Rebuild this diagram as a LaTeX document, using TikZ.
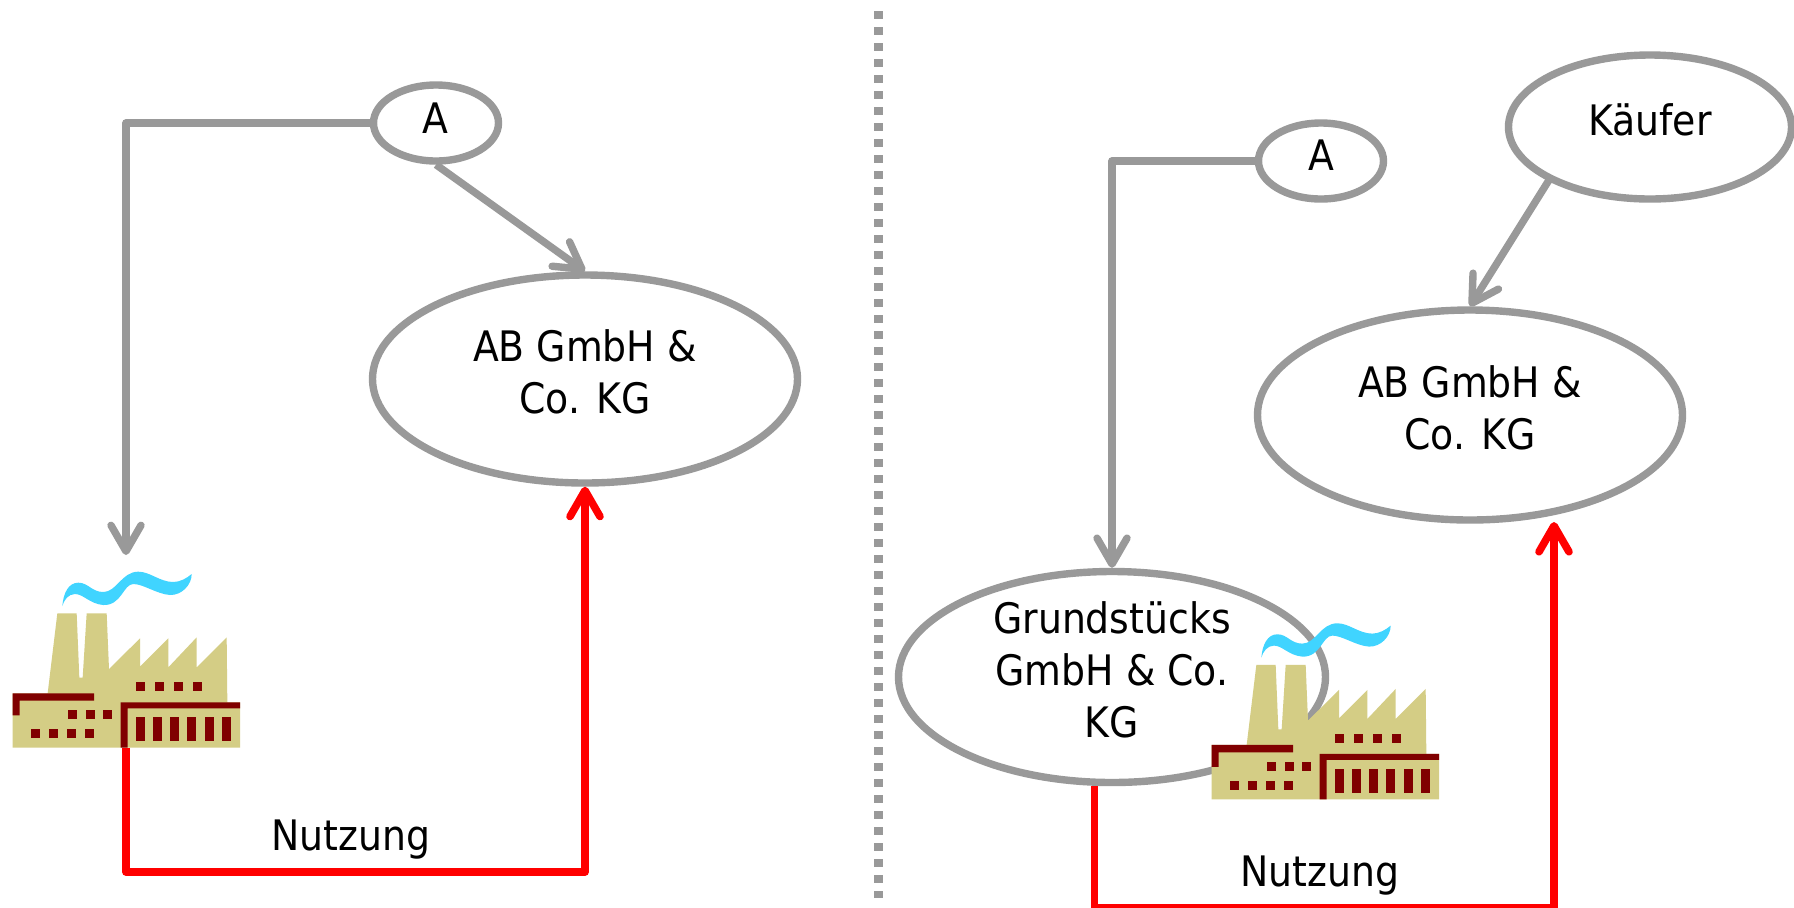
\documentclass[tikz,border=0pt]{standalone}
\usepackage{fontspec}
\setmainfont{DejaVu Sans Condensed}
\usetikzlibrary{arrows.meta,shapes.geometric}
\definecolor{gr}{HTML}{999999}
\definecolor{rd}{HTML}{FF0000}
\definecolor{beige}{HTML}{D4CD85}
\definecolor{dred}{HTML}{800000}
\definecolor{sky}{HTML}{40D4FF}
\tikzset{
 x=0.5pt,y=-0.5pt,
 oval/.style={draw=gr,line width=3.7pt,fill=white,ellipse,inner sep=0pt},
 lbl/.style={font=\fontsize{21}{26}\selectfont,align=center,text=black,inner sep=0pt},
 grayline/.style={draw=gr,line width=3.7pt,line join=round},
 grayarrow/.style={grayline,-{Straight Barb[length=13pt,width=15pt,line width=3.7pt,round]}},
 redarrow/.style={draw=rd,line width=3.8pt,line join=round,-{Straight Barb[length=13pt,width=15pt,line width=3.8pt,round]}},
 sep/.style={draw=gr,line width=4.5pt,dash pattern=on 4pt off 4pt},
 factory/.pic={
  \begin{scope}[x=0.16667pt,y=-0.16667pt]
  \fill[beige] (172,190)--(230,190)--(238,383)--(248,383)--(260,190)--(320,190)--(327,357)--(420,265)--(420,350)--(505,265)--(505,352)--(590,262)--(590,352)--(680,262)--(682,457)--(720,457)--(720,593)--(38,593)--(38,430)--(143,430)--cycle;
  \fill[dred] (38,430)--(282,430)--(282,452)--(59,452)--(59,496)--(38,496)--cycle;
  \fill[dred] (362,457)--(720,457)--(720,475)--(383,475)--(383,593)--(362,593)--cycle;
  \foreach \a in {408,465,522,579} \fill[dred] (\a,396) rectangle ++(27,27);
  \foreach \a in {204,258,309} \fill[dred] (\a,480) rectangle ++(27,27);
  \foreach \a in {93,147,201,255} \fill[dred] (\a,537) rectangle ++(27,27);
  \foreach \a in {408,459,510,561,615,666} \fill[dred] (\a,501) rectangle ++(27,72);
  \fill[sky] (187,168) .. controls (190,130) and (205,98) .. (235,98)
    .. controls (265,98) and (275,126) .. (310,126)
    .. controls (350,126) and (365,65) .. (415,65)
    .. controls (450,65) and (480,96) .. (520,96)
    .. controls (540,96) and (560,85) .. (575,72)
    .. controls (575,105) and (545,136) .. (510,135)
    .. controls (470,132) and (430,102) .. (400,102)
    .. controls (370,102) and (365,167) .. (310,165)
    .. controls (270,162) and (250,132) .. (225,132)
    .. controls (205,132) and (192,150) .. (187,168) -- cycle;
  \end{scope}
 }
}
\begin{document}
\begin{tikzpicture}
\useasboundingbox[fill=white] (0,0) rectangle (1794,907);
\begin{scope}
\clip (0,0) rectangle (1794,907);
% separator
\coordinate (sepT) at (878.5,11);
\coordinate (sepB) at (878.5,898);
\draw[sep] (sepT)--(sepB);

% left side
\node[oval,minimum width=62.5pt,minimum height=38pt] (aL) at (436,123) {};
\node[lbl] at (435,118) (aLt) {A};
\node[oval,minimum width=212.5pt,minimum height=104pt] (abL) at (585,379) {};
\node[lbl] (abLt) at (585,372) {AB GmbH \&\\Co. KG};
\pic at (0,550) {factory};
\coordinate (fL) at (126,555);
\coordinate (fLb) at (126,748);
\coordinate (cL1) at (126,123);
\coordinate (cL2) at (126,872);
\coordinate (cL3) at (585,872);
\draw[grayarrow] (aL.west)--(cL1)--(fL);
\draw[grayarrow] (aL.south)--(abL.north);
\draw[redarrow] (fLb)--(cL2)--(cL3)--(abL.south);
\node[lbl] (nL) at (351,840) {Nutzung};

% right side
\node[oval,minimum width=213.5pt,minimum height=105.5pt] (grund) at (1112,677) {};
\node[lbl] (grundT) at (1112,670) {Grundstücks\\GmbH \& Co.\\KG};
\pic at (1199,601.6) {factory};
\node[oval,minimum width=62.5pt,minimum height=38pt] (aR) at (1321,161) {};
\node[lbl] (aRt) at (1321,155) {A};
\node[oval,minimum width=141.5pt,minimum height=72pt] (kf) at (1650,127) {};
\node[lbl] (kft) at (1650,120) {Käufer};
\node[oval,minimum width=212.5pt,minimum height=105pt] (abR) at (1470,415) {};
\node[lbl] (abRt) at (1470,408) {AB GmbH \&\\Co. KG};
\coordinate (cR1) at (1112,161);
\coordinate (cR2) at (1094.5,908);
\coordinate (cR3) at (1554,908);
\coordinate (cR4) at (1554,522);
\coordinate (kS) at (1549,180);
\coordinate (gS) at (1094.5,786);
\draw[grayarrow] (aR.west)--(cR1)--(grund.north);
\draw[grayarrow] (kS)--(abR.north);
\draw[redarrow] (gS)--(cR2)--(cR3)--(cR4);
\node[lbl] (nR) at (1320,876) {Nutzung};
\end{scope}
\end{tikzpicture}
\end{document}
